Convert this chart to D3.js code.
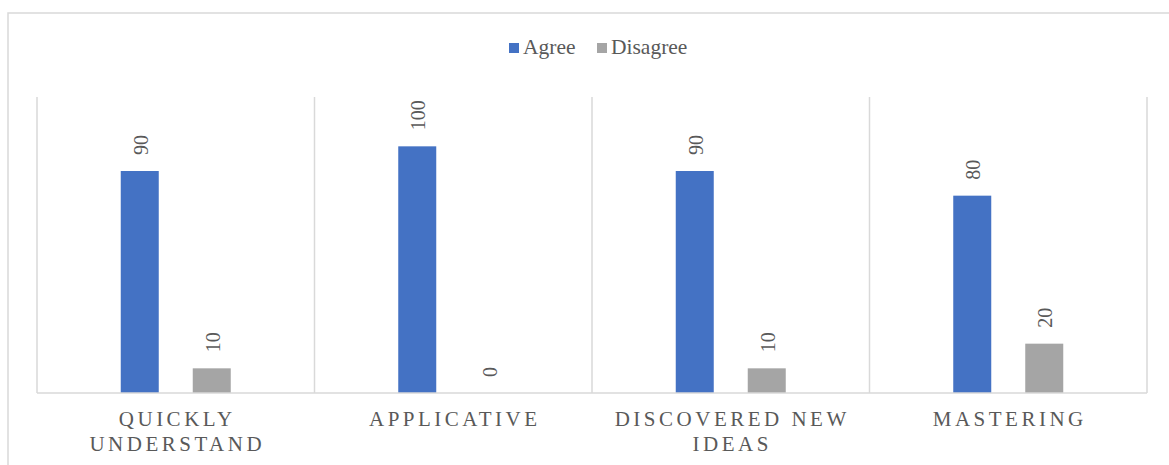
<!DOCTYPE html>
<html>
<head>
<meta charset="utf-8">
<script src="https://cdn.jsdelivr.net/npm/d3@7"></script>
<style>
  html, body { margin: 0; padding: 0; background: #fff; }
  svg { display: block; }
</style>
</head>
<body>
<svg id="chart" width="1169" height="465"></svg>
<script>
// Survey responses (percent) per statement
const categories = [["QUICKLY", "UNDERSTAND"], ["APPLICATIVE"], ["DISCOVERED NEW", "IDEAS"], ["MASTERING"]];
const seriesNames = ["Agree", "Disagree"];
const agree = [90, 100, 90, 80];
const disagree = [10, 0, 10, 20];
const colors = ["#4472C4", "#A5A5A5"];

const FONT = "'Liberation Serif', 'Times New Roman', 'DejaVu Serif', serif";
const TEXT_COLOR = "#595959";

const svg = d3.select("#chart");
const W = 1169, H = 465;
const plot = { left: 37, right: 1147, top: 97, bottom: 393 };

// Outer chart frame
svg.append("rect")
  .attr("x", 8).attr("y", 13)
  .attr("width", W + 20).attr("height", H + 20)
  .attr("fill", "#fff").attr("stroke", "#d9d9d9").attr("stroke-width", 1.5);

const x0 = d3.scaleBand()
  .domain(d3.range(categories.length))
  .range([plot.left, plot.right])
  .paddingInner(0).paddingOuter(0);

const y = d3.scaleLinear().domain([0, 120]).range([plot.bottom, plot.top]);

const barW = 38;
const offsets = [-36, 36];

// Category separators
const edges = d3.range(categories.length + 1).map(i => plot.left + i * x0.bandwidth());
svg.append("g").selectAll("line").data(edges).join("line")
  .attr("x1", d => d).attr("x2", d => d)
  .attr("y1", plot.top).attr("y2", plot.bottom)
  .attr("stroke", "#d9d9d9").attr("stroke-width", 1.5);

// Bars and value labels
const series = [agree, disagree];
series.forEach((vals, s) => {
  const g = svg.append("g");
  g.selectAll("rect").data(vals).join("rect")
    .attr("x", (d, i) => x0(i) + x0.bandwidth() / 2 + offsets[s] - barW / 2)
    .attr("y", d => y(d))
    .attr("width", barW)
    .attr("height", d => y(0) - y(d))
    .attr("fill", colors[s]);
  g.selectAll("text").data(vals).join("text")
    .attr("transform", (d, i) => {
      const cx = x0(i) + x0.bandwidth() / 2 + offsets[s];
      return `translate(${cx + 8},${y(d) - 16}) rotate(-90)`;
    })
    .attr("text-anchor", "start")
    .attr("font-family", FONT)
    .attr("font-size", 20)
    .attr("fill", TEXT_COLOR)
    .text(d => d);
});

// Baseline
svg.append("line")
  .attr("x1", plot.left).attr("x2", plot.right)
  .attr("y1", plot.bottom).attr("y2", plot.bottom)
  .attr("stroke", "#d9d9d9").attr("stroke-width", 1.5);

// Category labels
const lab = svg.append("g");
categories.forEach((lines, i) => {
  const cx = x0(i) + x0.bandwidth() / 2;
  const t = lab.append("text")
    .attr("text-anchor", "middle")
    .attr("font-family", FONT)
    .attr("font-size", 21)
    .attr("fill", TEXT_COLOR)
    .attr("letter-spacing", "3.5px");
  lines.forEach((ln, k) => {
    t.append("tspan").attr("x", cx + 1.5).attr("y", 426 + k * 25).text(ln);
  });
});

// Legend
const legend = svg.append("g");
const legendX = [509, 597];
seriesNames.forEach((name, s) => {
  legend.append("rect")
    .attr("x", legendX[s]).attr("y", 43)
    .attr("width", 10).attr("height", 10)
    .attr("fill", colors[s]);
  legend.append("text")
    .attr("x", legendX[s] + 14).attr("y", 54)
    .attr("font-family", FONT)
    .attr("font-size", 21.5)
    .attr("fill", TEXT_COLOR)
    .text(name);
});
</script>
</body>
</html>
